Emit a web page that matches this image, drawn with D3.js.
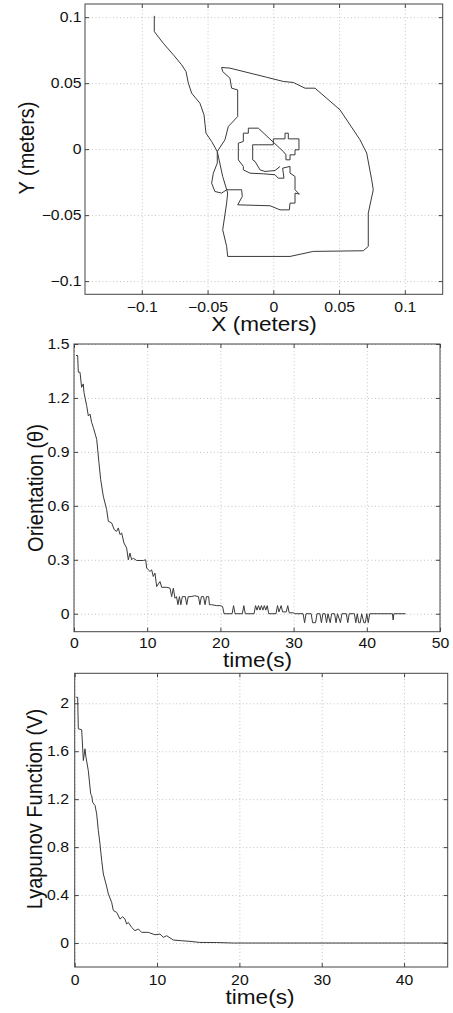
<!DOCTYPE html>
<html><head><meta charset="utf-8">
<script src="https://cdn.jsdelivr.net/npm/d3@7"></script>
<style>
body{margin:0;background:#fff;}
svg{display:block;font-family:"Liberation Sans",Arial,Helvetica,sans-serif;}
</style></head><body>
<svg id="c" width="453" height="1013"></svg>
<script>
// ---------- data ----------
const trajX = [-0.0905,-0.0905,-0.0837,-0.0760,-0.0697,-0.0664,-0.0646,-0.0621,-0.0558,-0.0527,
 -0.0512,-0.0469,-0.0426,-0.0385,-0.0347,-0.0355,-0.0385,-0.0355,-0.0347,0.0127,
 0.0304,0.0684,0.0722,0.0722,0.0760,0.0748,0.0710,0.0659,0.0507,0.0317,
 0.0241,0.0152,0.0076,-0.0051,-0.0330,-0.0393,-0.0385,-0.0330,-0.0317,-0.0271,
 -0.0271,-0.0342,-0.0368,-0.0426,-0.0426,-0.0456,-0.0469,-0.0444,-0.0393,-0.0355,
 -0.0241,-0.0236,-0.0271,-0.0025,0.0051,0.0122,0.0127,0.0165,0.0165,0.0198,
 0.0165,0.0165,0.0127,0.0127,0.0071,0.0081,0.0038,0.0013,-0.0076,-0.0177,
 -0.0228,-0.0228,-0.0266,-0.0266,-0.0228,-0.0228,-0.0190,-0.0190,-0.0114,0.0076,
 0.0096,0.0096,0.0127,0.0127,0.0165,0.0165,0.0195,0.0195,0.0114,0.0114,
 0.0089,0.0089,0,0,-0.0114,-0.0157,-0.0157,-0.0139,-0.0101,-0.0063,
 0.0013,0.0051];
const trajY = [0.1010,0.0891,0.0803,0.0715,0.0639,0.0588,0.0500,0.0424,0.0348,0.0260,
 0.0121,0.0058,-0.0018,-0.0207,-0.0333,-0.0409,-0.0611,-0.0737,-0.0813,-0.0813,
 -0.0775,-0.0770,-0.0737,-0.0485,-0.0308,-0.0232,-0.0030,0.0071,0.0298,0.0462,
 0.0462,0.0505,0.0513,0.0545,0.0614,0.0619,0.0588,0.0538,0.0462,0.0449,
 0.0247,0.0172,0.0071,-0.0018,-0.0106,-0.0182,-0.0258,-0.0321,-0.0333,-0.0308,
 -0.0308,-0.0359,-0.0422,-0.0429,-0.0460,-0.0460,-0.0409,-0.0409,-0.0333,-0.0341,
 -0.0308,-0.0207,-0.0182,-0.0131,-0.0144,-0.0220,-0.0220,-0.0194,-0.0187,-0.0182,
 -0.0157,-0.0131,-0.0081,0.0045,0.0058,0.0121,0.0121,0.0159,0.0159,-0.0018,
 -0.0043,-0.0081,-0.0081,-0.0043,-0.0043,-0.0005,-0.0005,0.0078,0.0078,0.0121,
 0.0121,0.0078,0.0078,0.0033,0.0033,0.0033,-0.0081,-0.0093,-0.0157,-0.0169,
 -0.0162,-0.0131];

const thetaTime = [0.27,0.5,0.59,0.82,1.04,1.27,1.36,1.73,1.96,2.19,2.41,2.64,3.1,3.23,3.41,3.64,4.0,4.46,
 4.69,5.14,5.5,5.83,6.06,6.28,6.51,6.83,7.19,7.42,7.65,7.88,8.1,8.56,9.47,9.79,9.93,10.15,10.38,10.61,10.83,11.06,11.29,11.75,11.98,12.66,13.12,13.34,13.57,13.8,
 14.0,14.2,14.4,14.6,14.8,15.2,15.4,15.6,16.0,16.5,17.0,17.2,17.4,17.7,17.9,18.1,18.4,18.5,18.8,19.5,20.0,20.3,20.5,
 21.6,21.8,22.0,23.0,23.2,23.4,24.6,24.8,25.0,25.2,25.4,25.6,25.8,26.0,26.2,26.4,26.6,27.6,27.8,28.0,28.3,28.5,29.0,29.2,29.4,30.0,30.2,
 31.3,31.5,31.7,32.4,32.6,33.0,33.2,33.6,33.8,34.0,34.3,34.5,34.7,35.0,35.2,35.6,35.8,36.0,36.4,36.6,37.2,37.4,37.6,38.3,38.5,38.7,38.9,39.1,39.3,39.6,39.8,40.0,40.2,40.4,43.5,43.6,43.7,45.3];
const thetaValue = [1.436,1.436,1.343,1.343,1.259,1.278,1.231,1.157,1.10,1.11,1.064,1.036,0.970,0.915,0.840,0.747,0.654,0.579,
 0.514,0.505,0.467,0.458,0.477,0.44,0.449,0.393,0.365,0.30,0.337,0.30,0.309,0.296,0.296,0.30,0.254,0.244,0.235,0.244,0.207,0.226,0.151,0.179,0.147,0.147,0.142,0.095,0.142,0.086,
 0.095,0.05,0.095,0.05,0.095,0.095,0.05,0.095,0.095,0.1,0.095,0.05,0.095,0.095,0.05,0.095,0.095,0.05,0.05,0.045,0.045,0.04,0.0,
 0,0.045,0,0,0.045,0,0,0.045,0.02,0.045,0.02,0.045,0.02,0.045,0.02,0.045,0,0,0.045,0.01,0.045,0.01,0.01,0.045,0.005,0.005,0,
 0,-0.05,0,0,-0.05,-0.05,0,0,-0.05,0,0,-0.05,0,-0.05,0,0,-0.05,0,-0.05,0,0,-0.05,0,0,-0.05,0,-0.05,-0.05,0,-0.05,-0.05,0,-0.05,0,0,-0.035,0,0];

const lyapTime = [0.16,0.36,0.44,0.85,1.05,1.25,1.37,1.65,1.94,2.06,2.18,2.47,2.67,2.87,3.07,3.28,3.48,3.80,4.09,4.49,
 4.70,5.1,5.5,5.83,6.1,6.31,6.51,6.92,7.32,7.73,8.13,8.94,9.75,10.36,10.76,11.17,11.98,13.0,14.0,15.2,17.25,19.3,45.3];
const lyapValue = [2.05,2.05,1.787,1.779,1.522,1.62,1.55,1.439,1.244,1.23,1.174,1.147,1.077,0.938,0.827,0.687,0.576,0.493,0.409,0.339,
 0.27,0.256,0.2,0.22,0.2,0.159,0.172,0.13,0.103,0.117,0.089,0.089,0.069,0.075,0.047,0.061,0.025,0.019,0.014,0.005,0.004,0,0];

const xyTicks = [-0.1,-0.05,0,0.05,0.1];
const xyTickLabels = ["\u22120.1","\u22120.05","0","0.05","0.1"];
const thetaXTicks = [0,10,20,30,40,50];
const thetaYTicks = [0,0.3,0.6,0.9,1.2,1.5];
const thetaYTickLabels = ["0","0.3","0.6","0.9","1.2","1.5"];
const lyapXTicks = [0,10,20,30,40];
const lyapYTicks = [0,0.4,0.8,1.2,1.6,2];
const lyapYTickLabels = ["0","0.4","0.8","1.2","1.6","2"];

// ---------- drawing ----------
const svg = d3.select("#c");
const SX = 1.13;

function panel(o){
  const g = svg.append("g");
  const x = d3.scaleLinear().domain(o.xDomain).range([o.left,o.right]);
  const y = d3.scaleLinear().domain(o.yDomain).range([o.bottom,o.top]);
  const W = o.right-o.left, H = o.bottom-o.top;

  // grid
  const gx = g.append("g").attr("transform",`translate(0,${o.bottom})`)
    .call(d3.axisBottom(x).tickValues(o.xTicks).tickSize(-H).tickFormat(""));
  const gy = g.append("g").attr("transform",`translate(${o.left},0)`)
    .call(d3.axisLeft(y).tickValues(o.yTicks).tickSize(-W).tickFormat(""));
  [gx,gy].forEach(s=>{
    s.select(".domain").remove();
    s.selectAll("line").attr("stroke","#c4c4c4").attr("stroke-dasharray","1,2.5").attr("stroke-width",1);
  });

  // data
  const line = d3.line().x(d=>x(d[0])).y(d=>y(d[1]));
  g.append("path").datum(o.data).attr("d",line)
    .attr("fill","none").attr("stroke","#3a3a3a").attr("stroke-width",1).attr("stroke-linejoin","round");

  // frame
  g.append("rect").attr("x",o.left).attr("y",o.top).attr("width",W).attr("height",H)
    .attr("fill","none").attr("stroke","#444").attr("stroke-width",1);

  // axes with inward ticks
  const fmtX = d=>o.xLabels ? o.xLabels[o.xTicks.indexOf(d)] : String(d);
  const fmtY = d=>o.yLabels ? o.yLabels[o.yTicks.indexOf(d)] : String(d);
  const ab = g.append("g").attr("transform",`translate(0,${o.bottom})`)
    .call(d3.axisBottom(x).tickValues(o.xTicks).tickSizeInner(-4).tickSizeOuter(0).tickPadding(o.xPad).tickFormat(fmtX));
  const at = g.append("g").attr("transform",`translate(0,${o.top})`)
    .call(d3.axisTop(x).tickValues(o.xTicks).tickSizeInner(-4).tickSizeOuter(0).tickFormat(""));
  const al = g.append("g").attr("transform",`translate(${o.left},0)`)
    .call(d3.axisLeft(y).tickValues(o.yTicks).tickSizeInner(-4).tickSizeOuter(0).tickPadding(o.yPad).tickFormat(fmtY));
  const ar = g.append("g").attr("transform",`translate(${o.right},0)`)
    .call(d3.axisRight(y).tickValues(o.yTicks).tickSizeInner(-4).tickSizeOuter(0).tickFormat(""));
  [ab,at,al,ar].forEach(s=>{
    s.select(".domain").remove();
    s.attr("font-family",null).attr("font-size",null);
    s.selectAll("line").attr("stroke","#444");
    s.selectAll("text").attr("fill","#111").style("font-size","14px").attr("transform",`scale(${SX},1)`);
  });

  // axis titles
  g.append("text").attr("transform",`translate(${o.xtx},${o.xty}) scale(${SX},1)`)
    .attr("text-anchor","middle").style("font-size","20px").attr("fill","#111").text(o.xTitle);
  g.append("text").attr("transform",`translate(${o.ytx},${o.yty}) scale(${SX},1) rotate(-90)`)
    .attr("text-anchor","middle").style("font-size","20px").attr("fill","#111").text(o.yTitle);
}

panel({
  left:85, right:442.7, top:4, bottom:294.3,
  xDomain:[-0.1432,0.1288], yDomain:[-0.11,0.11],
  xTicks:xyTicks, yTicks:xyTicks, xLabels:xyTickLabels, yLabels:xyTickLabels,
  xPad:7.5, yPad:3,
  data: trajX.map((v,i)=>[v,trajY[i]]),
  xTitle:"X (meters)", xtx:264, xty:331,
  yTitle:"Y (meters)", ytx:34, yty:148
});

panel({
  left:74, right:440, top:344, bottom:631.7,
  xDomain:[0,50], yDomain:[-0.1,1.5],
  xTicks:thetaXTicks, yTicks:thetaYTicks, yLabels:thetaYTickLabels,
  xPad:6.5, yPad:4,
  data: thetaTime.map((t,i)=>[t,thetaValue[i]]),
  xTitle:"time(s)", xtx:257.5, xty:666.5,
  yTitle:"Orientation (\u03b8)", ytx:43, yty:488
});

panel({
  left:74.7, right:447.7, top:673.3, bottom:967,
  xDomain:[0,45.3], yDomain:[-0.2,2.25],
  xTicks:lyapXTicks, yTicks:lyapYTicks, yLabels:lyapYTickLabels,
  xPad:8, yPad:5,
  data: lyapTime.map((t,i)=>[t,lyapValue[i]]),
  xTitle:"time(s)", xtx:260, xty:1004,
  yTitle:"Lyapunov Function (V)", ytx:42, yty:809
});
</script>
</body></html>
